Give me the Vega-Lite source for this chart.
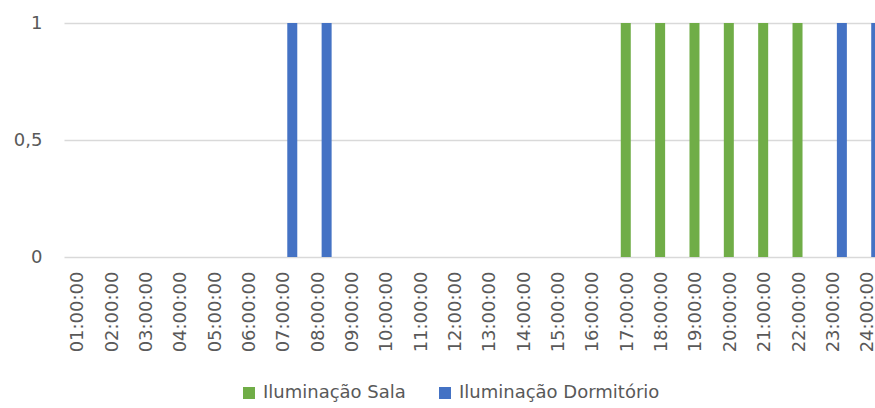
{
  "$schema": "https://vega.github.io/schema/vega-lite/v6.json",
  "autosize": "none",
  "width": 811,
  "height": 234,
  "padding": {"left": 64, "top": 23, "right": 0, "bottom": 151},
  "background": "white",
  "config": {
    "view": {"stroke": null},
    "font": "DejaVu Sans",
    "axis": {"labelFont": "DejaVu Sans", "labelFontSize": 18, "labelColor": "#595959", "title": null},
    "legend": {"labelFont": "DejaVu Sans", "labelFontSize": 18, "labelColor": "#595959"}
  },
  "data": {
    "values": [
      {"hora": "01:00:00", "serie": "Iluminação Sala", "valor": 0},
      {"hora": "01:00:00", "serie": "Iluminação Dormitório", "valor": 0},
      {"hora": "02:00:00", "serie": "Iluminação Sala", "valor": 0},
      {"hora": "02:00:00", "serie": "Iluminação Dormitório", "valor": 0},
      {"hora": "03:00:00", "serie": "Iluminação Sala", "valor": 0},
      {"hora": "03:00:00", "serie": "Iluminação Dormitório", "valor": 0},
      {"hora": "04:00:00", "serie": "Iluminação Sala", "valor": 0},
      {"hora": "04:00:00", "serie": "Iluminação Dormitório", "valor": 0},
      {"hora": "05:00:00", "serie": "Iluminação Sala", "valor": 0},
      {"hora": "05:00:00", "serie": "Iluminação Dormitório", "valor": 0},
      {"hora": "06:00:00", "serie": "Iluminação Sala", "valor": 0},
      {"hora": "06:00:00", "serie": "Iluminação Dormitório", "valor": 0},
      {"hora": "07:00:00", "serie": "Iluminação Sala", "valor": 0},
      {"hora": "07:00:00", "serie": "Iluminação Dormitório", "valor": 1},
      {"hora": "08:00:00", "serie": "Iluminação Sala", "valor": 0},
      {"hora": "08:00:00", "serie": "Iluminação Dormitório", "valor": 1},
      {"hora": "09:00:00", "serie": "Iluminação Sala", "valor": 0},
      {"hora": "09:00:00", "serie": "Iluminação Dormitório", "valor": 0},
      {"hora": "10:00:00", "serie": "Iluminação Sala", "valor": 0},
      {"hora": "10:00:00", "serie": "Iluminação Dormitório", "valor": 0},
      {"hora": "11:00:00", "serie": "Iluminação Sala", "valor": 0},
      {"hora": "11:00:00", "serie": "Iluminação Dormitório", "valor": 0},
      {"hora": "12:00:00", "serie": "Iluminação Sala", "valor": 0},
      {"hora": "12:00:00", "serie": "Iluminação Dormitório", "valor": 0},
      {"hora": "13:00:00", "serie": "Iluminação Sala", "valor": 0},
      {"hora": "13:00:00", "serie": "Iluminação Dormitório", "valor": 0},
      {"hora": "14:00:00", "serie": "Iluminação Sala", "valor": 0},
      {"hora": "14:00:00", "serie": "Iluminação Dormitório", "valor": 0},
      {"hora": "15:00:00", "serie": "Iluminação Sala", "valor": 0},
      {"hora": "15:00:00", "serie": "Iluminação Dormitório", "valor": 0},
      {"hora": "16:00:00", "serie": "Iluminação Sala", "valor": 0},
      {"hora": "16:00:00", "serie": "Iluminação Dormitório", "valor": 0},
      {"hora": "17:00:00", "serie": "Iluminação Sala", "valor": 1},
      {"hora": "17:00:00", "serie": "Iluminação Dormitório", "valor": 0},
      {"hora": "18:00:00", "serie": "Iluminação Sala", "valor": 1},
      {"hora": "18:00:00", "serie": "Iluminação Dormitório", "valor": 0},
      {"hora": "19:00:00", "serie": "Iluminação Sala", "valor": 1},
      {"hora": "19:00:00", "serie": "Iluminação Dormitório", "valor": 0},
      {"hora": "20:00:00", "serie": "Iluminação Sala", "valor": 1},
      {"hora": "20:00:00", "serie": "Iluminação Dormitório", "valor": 0},
      {"hora": "21:00:00", "serie": "Iluminação Sala", "valor": 1},
      {"hora": "21:00:00", "serie": "Iluminação Dormitório", "valor": 0},
      {"hora": "22:00:00", "serie": "Iluminação Sala", "valor": 1},
      {"hora": "22:00:00", "serie": "Iluminação Dormitório", "valor": 0},
      {"hora": "23:00:00", "serie": "Iluminação Sala", "valor": 0},
      {"hora": "23:00:00", "serie": "Iluminação Dormitório", "valor": 1},
      {"hora": "24:00:00", "serie": "Iluminação Sala", "valor": 0},
      {"hora": "24:00:00", "serie": "Iluminação Dormitório", "valor": 1}
    ]
  },
  "mark": {"type": "bar"},
  "encoding": {
    "x": {
      "field": "hora",
      "type": "ordinal",
      "sort": null,
      "scale": {"paddingInner": 0, "paddingOuter": 0, "range": [0, 824.4]},
      "axis": {
        "labelAngle": 270,
        "ticks": false,
        "tickSize": 0,
        "labelPadding": 14,
        "labelOffset": -3,
        "domain": false,
        "grid": false
      }
    },
    "xOffset": {
      "field": "serie",
      "type": "nominal",
      "sort": ["Iluminação Sala", "Iluminação Dormitório"],
      "scale": {"paddingInner": 0, "paddingOuter": 0.7175}
    },
    "y": {
      "field": "valor",
      "type": "quantitative",
      "scale": {"domain": [0, 1], "nice": false},
      "axis": {
        "values": [0, 0.5, 1],
        "format": "~g",
        "labelExpr": "replace(datum.label, '.', ',')",
        "ticks": false,
        "tickSize": 0,
        "labelPadding": 22,
        "domain": false,
        "grid": true,
        "gridColor": "#D9D9D9",
        "gridWidth": 1.5
      }
    },
    "color": {
      "field": "serie",
      "type": "nominal",
      "scale": {"domain": ["Iluminação Sala", "Iluminação Dormitório"], "range": ["#70AD47", "#4472C4"]},
      "legend": {
        "title": null,
        "orient": "none",
        "direction": "horizontal",
        "legendX": 176,
        "legendY": 361,
        "padding": 0,
        "symbolType": "square",
        "symbolSize": 144,
        "symbolStrokeWidth": 0,
        "symbolOpacity": 1,
        "labelOffset": 5,
        "labelLimit": 400,
        "columnPadding": 30
      }
    }
  }
}
